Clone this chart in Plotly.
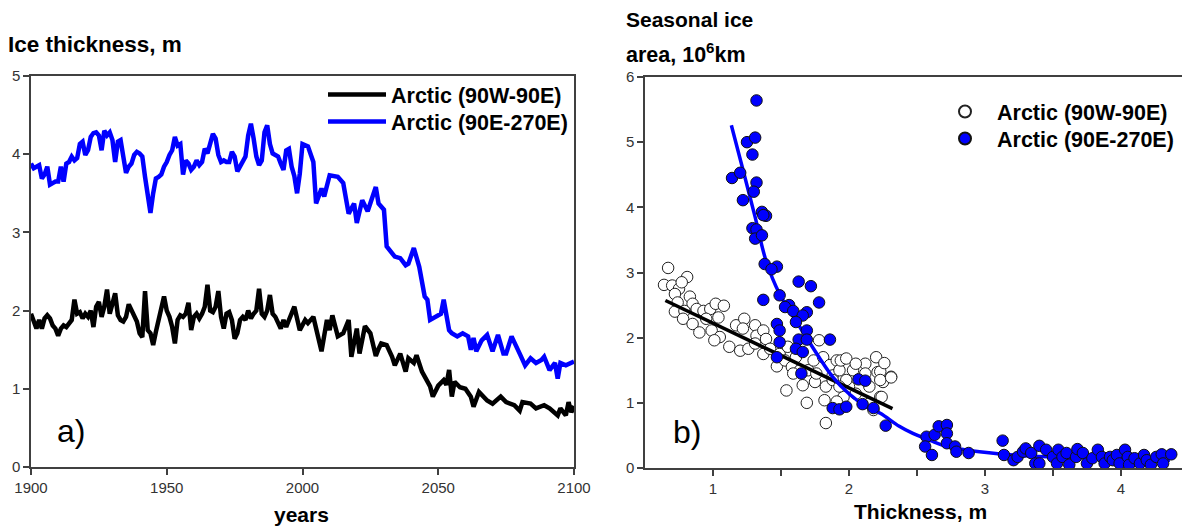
import plotly.graph_objects as go

# ---------------- Panel a) data ----------------
years_w = list(range(1900, 2000)) + [2001, 2002, 2004, 2005, 2007, 2009, 2010, 2011, 2013, 2015, 2017, 2018, 2020, 2021, 2023, 2025, 2027, 2028, 2029, 2031, 2033, 2034, 2036, 2038, 2039, 2041, 2042, 2044, 2046, 2047, 2048, 2050, 2052, 2053, 2054, 2055, 2056, 2058, 2060, 2062, 2063, 2065, 2068, 2070, 2073, 2075, 2078, 2080, 2081, 2084, 2086, 2089, 2091, 2094, 2095, 2097, 2098, 2099, 2100]
thick_w = [1.96, 1.88, 1.77, 1.88, 1.77, 1.90, 1.94, 1.90, 1.81, 1.77,
           1.68, 1.77, 1.81, 1.79, 1.83, 1.88, 2.14, 1.96, 1.98, 1.90,
           1.96, 1.92, 2.00, 1.79, 2.05, 2.11, 1.92, 2.05, 2.27, 1.96,
           2.09, 2.22, 1.94, 1.88, 1.86, 1.92, 2.08, 2.00, 1.92, 1.86,
           1.71, 1.66, 2.25, 1.75, 1.71, 1.56, 1.73, 1.88, 2.00, 2.18,
           2.00, 1.92, 1.79, 1.58, 1.88, 1.94, 1.92, 1.96, 2.10, 1.75,
           1.92, 1.96, 1.90, 1.96, 2.05, 2.33, 2.00, 1.98, 2.05, 2.25,
           1.92, 1.77, 1.96, 1.98, 1.88, 1.64, 1.71, 1.88, 1.92, 1.88,
           2.00, 1.90, 1.96, 2.00, 2.28, 1.96, 1.92, 2.00, 2.20, 1.96,
           1.92, 1.83, 1.77, 1.88, 1.79, 1.88, 1.96, 2.05, 1.90, 1.75,
           1.88, 1.84, 1.92, 1.75, 1.48, 1.88, 1.75, 1.94, 1.67, 1.71,
           1.88, 1.41, 1.77, 1.45, 1.80, 1.71, 1.42, 1.51, 1.58, 1.56,
           1.41, 1.30, 1.45, 1.22, 1.39, 1.33, 1.43, 1.22, 1.11, 1.03,
           0.90, 1.04, 1.11, 1.05, 1.24, 0.90, 1.09, 1.02, 1.00, 0.90,
           0.77, 0.96, 0.85, 0.81, 0.90, 0.83, 0.79, 0.72, 0.83, 0.81,
           0.75, 0.79, 0.75, 0.66, 0.75, 0.66, 0.83, 0.70, 0.78]

years_e = list(range(1900, 2000)) + [2000, 2002, 2004, 2005, 2007, 2008, 2010, 2013, 2015, 2017, 2019, 2020, 2022, 2024, 2027, 2028, 2030, 2031, 2034, 2036, 2038, 2039, 2041, 2043, 2045, 2046, 2047, 2049, 2051, 2052, 2054, 2055, 2057, 2059, 2061, 2062, 2063, 2064, 2066, 2068, 2070, 2072, 2074, 2075, 2077, 2080, 2082, 2084, 2086, 2088, 2089, 2091, 2093, 2094, 2095, 2097, 2100]
thick_e = [3.88, 3.82, 3.84, 3.86, 3.69, 3.74, 3.84, 3.61, 3.63, 3.65,
           3.65, 3.84, 3.65, 3.88, 3.90, 3.97, 3.92, 3.95, 4.13, 4.16,
           3.99, 4.05, 4.22, 4.27, 4.28, 4.24, 4.05, 4.30, 4.24, 4.28,
           4.18, 3.90, 4.16, 4.18, 3.97, 3.76, 3.84, 3.88, 3.99, 4.03,
           4.01, 3.97, 3.71, 3.42, 3.25, 3.50, 3.69, 3.71, 3.74, 3.84,
           3.90, 3.99, 4.05, 4.22, 4.11, 4.13, 3.74, 3.92, 3.88, 3.80,
           3.84, 3.92, 3.86, 3.90, 4.07, 4.01, 4.13, 4.26, 4.20, 3.99,
           3.90, 3.92, 3.90, 3.90, 4.03, 3.97, 3.78, 3.84, 3.92, 3.97,
           4.24, 4.39, 4.20, 3.97, 3.86, 3.92, 4.28, 4.37, 4.13, 4.01,
           3.99, 3.97, 3.88, 3.80, 4.05, 4.07, 3.84, 3.72, 3.50, 3.75,
           4.13, 4.10, 3.90, 3.37, 3.56, 3.46, 3.73, 3.71, 3.63, 3.24,
           3.37, 3.12, 3.41, 3.27, 3.58, 3.37, 3.29, 2.82, 2.69, 2.67,
           2.58, 2.60, 2.80, 2.56, 2.18, 2.14, 1.88, 1.92, 1.96, 2.14,
           1.75, 1.71, 1.67, 1.71, 1.67, 1.50, 1.65, 1.48, 1.62, 1.69,
           1.48, 1.69, 1.45, 1.45, 1.67, 1.45, 1.30, 1.39, 1.33, 1.37,
           1.41, 1.24, 1.33, 1.13, 1.33, 1.30, 1.35]

# ---------------- Panel b) data ----------------
sc_w_x = [0.67, 0.64, 0.70, 0.75, 0.81, 0.77, 0.72, 0.83, 0.74, 0.85, 0.72, 0.79, 0.88, 0.93,
          0.98, 1.02, 1.08, 0.78, 0.85, 0.95, 1.04, 0.90, 0.99, 1.05, 1.01, 1.12, 1.20, 1.26,
          1.17, 1.23, 1.22, 1.31, 1.32, 1.37, 1.31, 1.39, 1.37, 1.42, 1.47, 1.49, 1.53, 1.55,
          1.58, 1.54, 1.61, 1.66, 1.70, 1.69, 1.74, 1.75, 1.78, 1.81, 1.83, 1.82, 1.86, 1.88,
          1.91, 1.93, 1.94, 1.98, 2.03, 2.00, 2.05, 1.96, 1.91, 1.83, 2.12, 2.12, 2.15, 2.21,
          2.23, 2.18, 2.15, 2.25, 2.31, 2.20, 2.05, 1.64, 1.59, 1.76, 1.88, 1.98, 1.93, 2.23,
          2.23, 2.31, 2.26, 2.24]
sc_w_y = [3.07, 2.81, 2.80, 2.75, 2.93, 2.85, 2.67, 2.63, 2.54, 2.52, 2.40, 2.41, 2.44, 2.41,
          2.44, 2.52, 2.49, 2.29, 2.21, 2.29, 2.31, 2.08, 2.11, 2.01, 1.96, 1.86, 1.80, 1.83,
          2.19, 2.29, 2.14, 2.19, 2.03, 2.11, 1.91, 1.98, 1.75, 1.83, 1.56, 1.75, 1.65, 1.86,
          1.55, 1.19, 1.70, 1.27, 1.50, 1.00, 1.65, 1.32, 1.96, 1.70, 1.25, 1.04, 1.58, 1.42,
          1.65, 1.50, 1.65, 1.68, 1.50, 1.25, 1.14, 1.09, 1.02, 0.69, 1.60, 1.45, 1.25, 1.47,
          1.09, 0.89, 0.99, 1.32, 1.40, 1.70, 1.60, 1.50, 1.45, 1.45, 1.35, 1.35, 1.25, 1.48,
          1.35, 1.39, 1.61, 1.09]

sc_e_x = [1.32, 1.25, 1.31, 1.29, 1.14, 1.20, 1.32, 1.30, 1.22, 1.36, 1.39, 1.37, 1.29, 1.32,
          1.31, 1.36, 1.38, 1.47, 1.43, 1.63, 1.72, 1.37, 1.49, 1.56, 1.53, 1.78, 1.59, 1.69,
          1.66, 1.47, 1.61, 1.49, 1.69, 1.49, 1.63, 1.86, 1.69, 1.61, 1.66, 1.47, 1.65, 2.07,
          2.12, 1.88, 1.93, 1.98, 2.10, 2.18, 2.27, 2.57, 2.56, 2.61, 2.63, 2.66, 2.72, 2.72,
          2.72, 2.78, 2.79, 2.88, 3.13, 3.14, 3.21, 3.24, 3.28, 3.30, 3.34, 3.37, 3.40, 3.40,
          3.45, 3.50, 3.53, 3.54, 3.57, 3.60, 3.62, 3.67, 3.68, 3.72, 3.75, 3.79, 3.83, 3.86,
          3.88, 3.92, 3.94, 3.97, 3.99, 4.03, 4.05, 4.06, 4.10, 4.14, 4.17, 4.19, 4.22, 4.26,
          4.30, 4.31, 4.37]
sc_e_y = [5.64, 5.00, 5.07, 4.81, 4.45, 4.53, 4.38, 4.24, 4.11, 3.93, 3.87, 3.88, 3.68, 3.66,
          3.52, 3.57, 3.13, 3.09, 3.05, 2.86, 2.79, 2.58, 2.65, 2.50, 2.47, 2.54, 2.41, 2.39,
          2.34, 2.21, 2.24, 2.11, 2.11, 1.93, 1.97, 1.97, 1.97, 1.83, 1.78, 1.70, 1.45, 1.36,
          1.34, 0.92, 0.90, 0.94, 0.98, 0.92, 0.65, 0.48, 0.33, 0.20, 0.51, 0.64, 0.66, 0.53,
          0.38, 0.33, 0.25, 0.23, 0.42, 0.20, 0.12, 0.17, 0.25, 0.30, 0.23, 0.07, 0.34, 0.07,
          0.28, 0.17, 0.07, 0.28, 0.17, 0.23, 0.05, 0.17, 0.29, 0.23, 0.07, 0.15, 0.28, 0.17,
          0.07, 0.17, 0.12, 0.20, 0.07, 0.28, 0.17, 0.05, 0.15, 0.07, 0.20, 0.12, 0.05, 0.17,
          0.21, 0.07, 0.21]

fit_w_x = [0.65, 2.32]
fit_w_y = [2.57, 0.91]

fit_e_x = [1.135, 1.22, 1.31, 1.39, 1.49, 1.64, 1.78, 1.88, 2.00, 2.13, 2.23, 2.37, 2.47, 2.60, 2.72, 2.85, 2.96, 3.21, 3.50, 3.80, 4.10, 4.36]
fit_e_y = [5.26, 4.58, 3.85, 3.18, 2.67, 2.16, 1.70, 1.40, 1.14, 0.94, 0.84, 0.64, 0.53, 0.42, 0.33, 0.28, 0.25, 0.20, 0.17, 0.15, 0.13, 0.12]

NAME_W = "Arctic (90W-90E)"
NAME_E = "Arctic (90E-270E)"

FONT = "Liberation Sans, Arial, sans-serif"
AX = "#404040"
W, H = 1182, 528

fig = go.Figure()

fig.add_trace(go.Scatter(x=years_w, y=thick_w, mode="lines", name=NAME_W,
                         line=dict(color="black", width=4.5), xaxis="x", yaxis="y",
                         legend="legend"))
fig.add_trace(go.Scatter(x=years_e, y=thick_e, mode="lines", name=NAME_E,
                         line=dict(color="#0000ff", width=4.5), xaxis="x", yaxis="y",
                         legend="legend2"))

fig.add_trace(go.Scatter(x=sc_w_x, y=sc_w_y, mode="markers", name=NAME_W,
                         marker=dict(size=11.5, color="white", line=dict(color="#222", width=1)),
                         xaxis="x2", yaxis="y2", legend="legend3"))
fig.add_trace(go.Scatter(x=fit_w_x, y=fit_w_y, mode="lines", showlegend=False,
                         line=dict(color="black", width=3.5), xaxis="x2", yaxis="y2"))
fig.add_trace(go.Scatter(x=fit_e_x, y=fit_e_y, mode="lines", showlegend=False, line_shape="spline",
                         line=dict(color="#0000ff", width=3.5), xaxis="x2", yaxis="y2"))
fig.add_trace(go.Scatter(x=sc_e_x, y=sc_e_y, mode="markers", name=NAME_E,
                         marker=dict(size=11.5, color="#0000ff", line=dict(color="#111", width=1)),
                         xaxis="x2", yaxis="y2", legend="legend4"))

axis_common = dict(showline=True, linecolor=AX, linewidth=1.5, mirror=True, ticks="outside",
                   tickcolor=AX, ticklen=6, tickwidth=1.5, showgrid=False, zeroline=False,
                   automargin=False,
                   tickfont=dict(family=FONT, size=15, color="#333"))

LEG_FONT = dict(family=FONT, size=21.5, color="black", weight="bold")


def leg(xpx, ytop, iw, sizing="trace"):
    return dict(x=xpx/W, y=1-ytop/H, xanchor="left", yanchor="top", bgcolor="rgba(0,0,0,0)",
                font=LEG_FONT, itemwidth=iw, itemsizing=sizing)


fig.update_layout(
    width=W, height=H, autosize=False,
    margin=dict(l=0, r=0, t=0, b=0, pad=0, autoexpand=False),
    paper_bgcolor="white", plot_bgcolor="white",
    xaxis=dict(domain=[31/W, 574/W], range=[1900, 2100], tickvals=[1900, 1950, 2000, 2050, 2100], anchor="y", **axis_common),
    yaxis=dict(domain=[1-467/H, 1-76/H], range=[0, 5], tickvals=[0, 1, 2, 3, 4, 5], anchor="x", **axis_common),
    xaxis2=dict(domain=[645/W, 1.0], range=[0.5, 4.449], tickvals=[1, 2, 3, 4], anchor="y2",
                minor=dict(tickvals=[1.5, 2.5, 3.5], ticks="outside", ticklen=6, tickcolor=AX, tickwidth=1.5),
                **axis_common),
    yaxis2=dict(domain=[1-468/H, 1-77/H], range=[0, 6], tickvals=[0, 1, 2, 3, 4, 5, 6], anchor="x2", **axis_common),
    legend=leg(323, 74, 58),
    legend2=leg(323, 101, 58),
    legend3=leg(933, 91, 54, "constant"),
    legend4=leg(933, 118, 54, "constant"),
    annotations=[
        dict(text="<b>Ice thickness, m</b>", x=6/W, y=1-45/H, xref="paper", yref="paper",
             xanchor="left", yanchor="middle", showarrow=False, font=dict(family=FONT, size=22.5, color="black")),
        dict(text="<b>years</b>", x=301/W, y=1-514/H, xref="paper", yref="paper",
             xanchor="center", yanchor="middle", showarrow=False, font=dict(family=FONT, size=21, color="black")),
        dict(text="<b>Seasonal ice</b>", x=624/W, y=1-20/H, xref="paper", yref="paper",
             xanchor="left", yanchor="middle", showarrow=False, font=dict(family=FONT, size=21, color="black")),
        dict(text="<b>area, 10<sup>6</sup>km</b>", x=624/W, y=1-53/H, xref="paper", yref="paper",
             xanchor="left", yanchor="middle", showarrow=False, font=dict(family=FONT, size=21.5, color="black")),
        dict(text="<b>Thickness, m</b>", x=921/W, y=1-511/H, xref="paper", yref="paper",
             xanchor="center", yanchor="middle", showarrow=False, font=dict(family=FONT, size=21, color="black")),
        dict(text="a)", x=71/W, y=1-431/H, xref="paper", yref="paper",
             xanchor="center", yanchor="middle", showarrow=False, font=dict(family=FONT, size=32, color="black")),
        dict(text="b)", x=687/W, y=1-432/H, xref="paper", yref="paper",
             xanchor="center", yanchor="middle", showarrow=False, font=dict(family=FONT, size=32, color="black")),
    ],
)

fig.write_html("out.html")
